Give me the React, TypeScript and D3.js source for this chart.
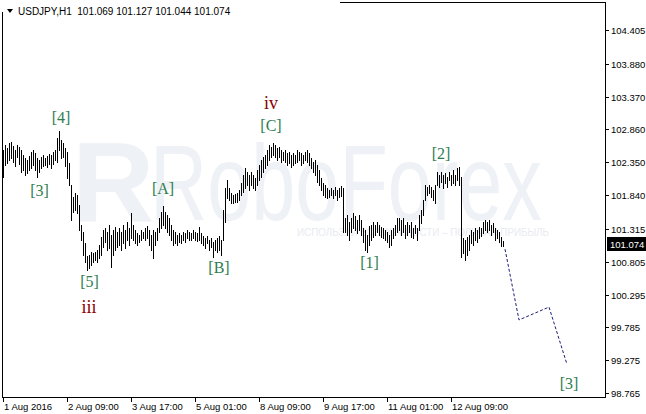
import React from 'react';
import * as d3 from 'd3';

// H1 bars (high / low), 1 Aug 2016 00:00 onward
const highs = [
  102.54,102.62,102.57,102.65,102.66,102.60,102.54,102.62,102.59,102.54,
  102.46,102.42,102.39,102.45,102.51,102.54,102.49,102.42,102.39,102.43,
  102.46,102.42,102.45,102.48,102.46,102.51,102.54,102.73,102.84,102.70,
  102.65,102.57,102.51,102.34,102.00,101.81,101.87,101.84,101.69,101.37,
  101.27,101.10,100.89,100.91,100.96,100.94,100.96,100.99,101.06,101.19,
  101.30,101.33,101.27,101.37,101.22,101.30,101.34,101.27,101.33,101.27,
  101.37,101.30,101.42,101.33,101.56,101.37,101.30,101.25,101.22,101.30,
  101.27,101.33,101.36,101.30,101.22,101.30,101.27,101.33,101.48,101.58,
  101.67,101.58,101.53,101.48,101.37,101.30,101.27,101.22,101.25,101.22,
  101.27,101.25,101.30,101.27,101.25,101.30,101.27,101.25,101.34,101.25,
  101.20,101.17,101.20,101.14,101.17,101.11,101.14,101.17,101.20,101.14,
  101.61,101.95,102.07,101.95,101.87,101.84,101.86,101.87,101.92,102.03,
  102.15,102.26,102.20,102.15,102.20,102.15,102.11,102.23,102.31,102.39,
  102.43,102.46,102.54,102.62,102.59,102.65,102.62,102.57,102.59,102.54,
  102.51,102.54,102.49,102.51,102.46,102.49,102.46,102.54,102.51,102.49,
  102.46,102.51,102.54,102.49,102.42,102.35,102.39,102.31,102.23,102.11,
  102.03,102.00,101.95,101.92,101.95,101.92,101.97,101.92,101.95,101.98,
  101.95,101.48,101.53,101.42,101.48,101.56,101.51,101.45,101.53,101.45,
  101.33,101.30,101.22,101.36,101.37,101.42,101.37,101.42,101.37,101.34,
  101.33,101.30,101.27,101.22,101.30,101.33,101.37,101.48,101.48,101.45,
  101.48,101.37,101.42,101.37,101.42,101.33,101.37,101.33,101.53,101.61,
  101.76,102.00,101.97,102.00,101.97,101.92,102.00,102.20,102.15,102.20,
  102.15,102.18,102.12,102.20,102.15,102.23,102.15,102.26,102.28,102.12,
  101.17,101.14,101.19,101.22,101.30,101.27,101.33,101.30,101.34,101.33,
  101.42,101.45,101.42,101.45,101.37,101.41,101.33,101.30,101.27,101.19,
  101.127,
];
const lows = [
  102.12,102.31,102.34,102.39,102.42,102.35,102.29,102.43,102.32,102.20,
  102.23,102.15,102.18,102.23,102.26,102.31,102.23,102.12,102.20,102.26,
  102.29,102.31,102.28,102.32,102.26,102.32,102.39,102.35,102.54,102.42,
  102.43,102.29,102.11,102.00,101.45,101.58,101.61,101.56,101.30,101.14,
  100.91,100.80,100.68,100.71,100.75,100.80,100.83,100.80,100.86,100.91,
  101.03,101.11,100.99,101.02,100.72,100.91,100.99,101.03,101.06,100.99,
  101.10,101.02,101.14,101.06,101.17,101.14,101.10,101.06,101.11,101.14,
  101.17,101.14,101.17,101.06,100.99,100.86,101.06,101.14,101.27,101.33,
  101.37,101.33,101.27,101.22,101.14,101.06,101.10,101.06,101.11,101.10,
  101.14,101.11,101.17,101.14,101.14,101.17,101.14,101.13,101.14,101.10,
  101.06,101.02,101.10,100.99,101.03,100.88,100.99,100.96,100.99,100.91,
  101.14,101.42,101.79,101.76,101.72,101.72,101.73,101.73,101.76,101.84,
  101.89,101.95,102.00,101.92,102.00,101.95,101.92,102.00,102.07,102.12,
  102.20,102.26,102.31,102.39,102.43,102.46,102.43,102.39,102.43,102.35,
  102.39,102.35,102.31,102.34,102.28,102.31,102.34,102.35,102.39,102.31,
  102.34,102.39,102.35,102.31,102.26,102.20,102.15,102.04,102.00,101.92,
  101.84,101.81,101.79,101.81,101.84,101.79,101.84,101.76,101.81,101.83,
  101.27,101.27,101.22,101.14,101.27,101.33,101.30,101.25,101.30,101.22,
  101.11,100.99,100.96,101.06,101.14,101.19,101.22,101.27,101.22,101.19,
  101.17,101.14,101.11,101.03,101.06,101.17,101.22,101.27,101.30,101.22,
  101.27,101.17,101.22,101.27,101.19,101.17,101.25,101.14,101.30,101.41,
  101.53,101.76,101.84,101.87,101.81,101.76,101.72,102.00,101.97,102.04,
  101.95,102.03,101.97,102.07,102.00,102.03,102.00,102.07,102.00,100.88,
  100.94,100.83,100.91,100.99,101.10,101.06,101.14,101.11,101.17,101.20,
  101.25,101.30,101.27,101.30,101.22,101.27,101.14,101.17,101.11,101.05,
  101.044,
];

const priceTicks = [104.405, 103.88, 103.37, 102.86, 102.35, 101.84, 101.315, 100.805, 100.295, 99.785, 99.275, 98.765];
const priceTickLabels = ['104.405', '103.880', '103.370', '102.860', '102.350', '101.840', '101.315', '100.805', '100.295', '99.785', '99.275', '98.765'];
const timeTickIdx = [0, 32, 64, 96, 128, 160, 192, 224];
const timeTickLabels = ['1 Aug 2016', '2 Aug 09:00', '3 Aug 17:00', '5 Aug 01:00', '8 Aug 09:00', '9 Aug 17:00', '11 Aug 01:00', '12 Aug 09:00'];

const forecastIdx = [251, 258, 273, 282];
const forecastPrice = [101.0, 99.9, 100.1, 99.21];

const waveText = ['[3]', '[4]', '[5]', 'iii', '[A]', '[B]', 'iv', '[C]', '[1]', '[2]', '[3]'];
const waveIdx = [18.25, 29, 43.25, 43, 80, 108, 134, 134, 183.25, 219, 283];
const wavePrice = [101.92, 103.05, 100.505, 100.1, 101.94, 100.72, 103.27, 102.93, 100.79, 102.49, 98.92];
const waveMajor = [false, false, false, true, false, false, true, false, false, false, false];

const lastPrice = 101.074;
const titleText = 'USDJPY,H1  101.069 101.127 101.044 101.074';

const W = 646;
const H = 414;
const LEFT = 2;
const RIGHT = 605;
const TOP = 2;
const BOTTOM = 397;

export default function App() {
  const x = d3.scaleLinear().domain([0, 300]).range([3, 603]);
  const y = d3.scaleLinear().domain([98.765, 104.405]).range([393, 30]);

  const line = d3
    .line<number>()
    .x((_, k) => x(forecastIdx[k]))
    .y((d) => y(d));

  const axisFont = 'Liberation Sans, Arial, sans-serif';
  const yl = Math.round(y(lastPrice));

  return (
    <div style={{ position: 'fixed', left: 0, top: 0 }}>
      <svg width={W} height={H} style={{ display: 'block', background: '#fff' }}>
        <rect x={0} y={0} width={W} height={H} fill="#fff" />
        {/* watermark */}
        <g fill="#eef1f5">
          <text x={72} y={222} fontFamily="Liberation Sans, Arial, sans-serif" fontWeight="bold" fontSize={114}>
            R
          </text>
          <text
            x={150}
            y={220}
            fontFamily="Liberation Sans, Arial, sans-serif"
            fontSize={108}
            textLength={392}
            lengthAdjust="spacingAndGlyphs"
          >
            RoboForex
          </text>
          <text
            x={297}
            y={236}
            fontFamily="Liberation Sans, Arial, sans-serif"
            fontSize={11}
            fill="#e8ebf0"
            textLength={252}
            lengthAdjust="spacingAndGlyphs"
          >
            ИСПОЛЬЗУЙ ВОЗМОЖНОСТИ – ПОЛУЧАЙ ПРИБЫЛЬ
          </text>
        </g>

        {/* bars */}
        <g fill="#000">
          {highs.map((h, i) => {
            const y1 = Math.round(y(h));
            const y2 = Math.round(y(lows[i]));
            return <rect key={i} x={Math.round(x(i))} y={y1} width={1} height={Math.max(1, y2 - y1 + 1)} />;
          })}
        </g>

        {/* forecast */}
        <path d={line(forecastPrice) || ''} fill="none" stroke="#1c1c78" strokeWidth={1} strokeDasharray="3,2" />

        {/* wave labels */}
        {waveText.map((t, k) => (
          <text
            key={k}
            x={x(waveIdx[k])}
            y={y(wavePrice[k])}
            dy="0.35em"
            textAnchor="middle"
            fontFamily="Liberation Serif, Times New Roman, serif"
            fontSize={waveMajor[k] ? 18 : 16}
            fill={waveMajor[k] ? '#8b0000' : '#2e7d4f'}
          >
            {t}
          </text>
        ))}

        {/* frame */}
        <rect x={LEFT + 0.5} y={TOP + 0.5} width={RIGHT - LEFT} height={BOTTOM - TOP} fill="none" stroke="#000" strokeWidth={1} />
        {/* title background */}
        <rect x={0} y={0} width={340} height={12} fill="#fff" />
        <path d="M7,9 L13,9 L10,13 Z" fill="#000" />
        <text x={18} y={15} fontFamily={axisFont} fontSize={10} fill="#000" style={{ whiteSpace: 'pre' }}>
          {titleText}
        </text>

        {/* price axis */}
        {priceTicks.map((p, k) => {
          const yy = Math.round(y(p));
          return (
            <g key={k}>
              <line x1={RIGHT} x2={RIGHT + 4} y1={yy + 0.5} y2={yy + 0.5} stroke="#000" />
              <text x={611} y={yy + 3.5} fontFamily={axisFont} fontSize={9.5} fill="#000">
                {priceTickLabels[k]}
              </text>
            </g>
          );
        })}
        <rect x={607} y={yl - 7} width={39} height={14} fill="#000" />
        <text x={610} y={yl + 3.5} fontFamily={axisFont} fontSize={9.5} fill="#fff">
          {lastPrice.toFixed(3)}
        </text>

        {/* time axis */}
        {timeTickIdx.map((i, k) => {
          const xx = Math.round(x(i));
          return (
            <g key={k}>
              <line x1={xx + 0.5} x2={xx + 0.5} y1={BOTTOM} y2={BOTTOM + 5} stroke="#000" />
              <text x={xx + 1} y={410} fontFamily={axisFont} fontSize={9.5} fill="#000">
                {timeTickLabels[k]}
              </text>
            </g>
          );
        })}
      </svg>
    </div>
  );
}
